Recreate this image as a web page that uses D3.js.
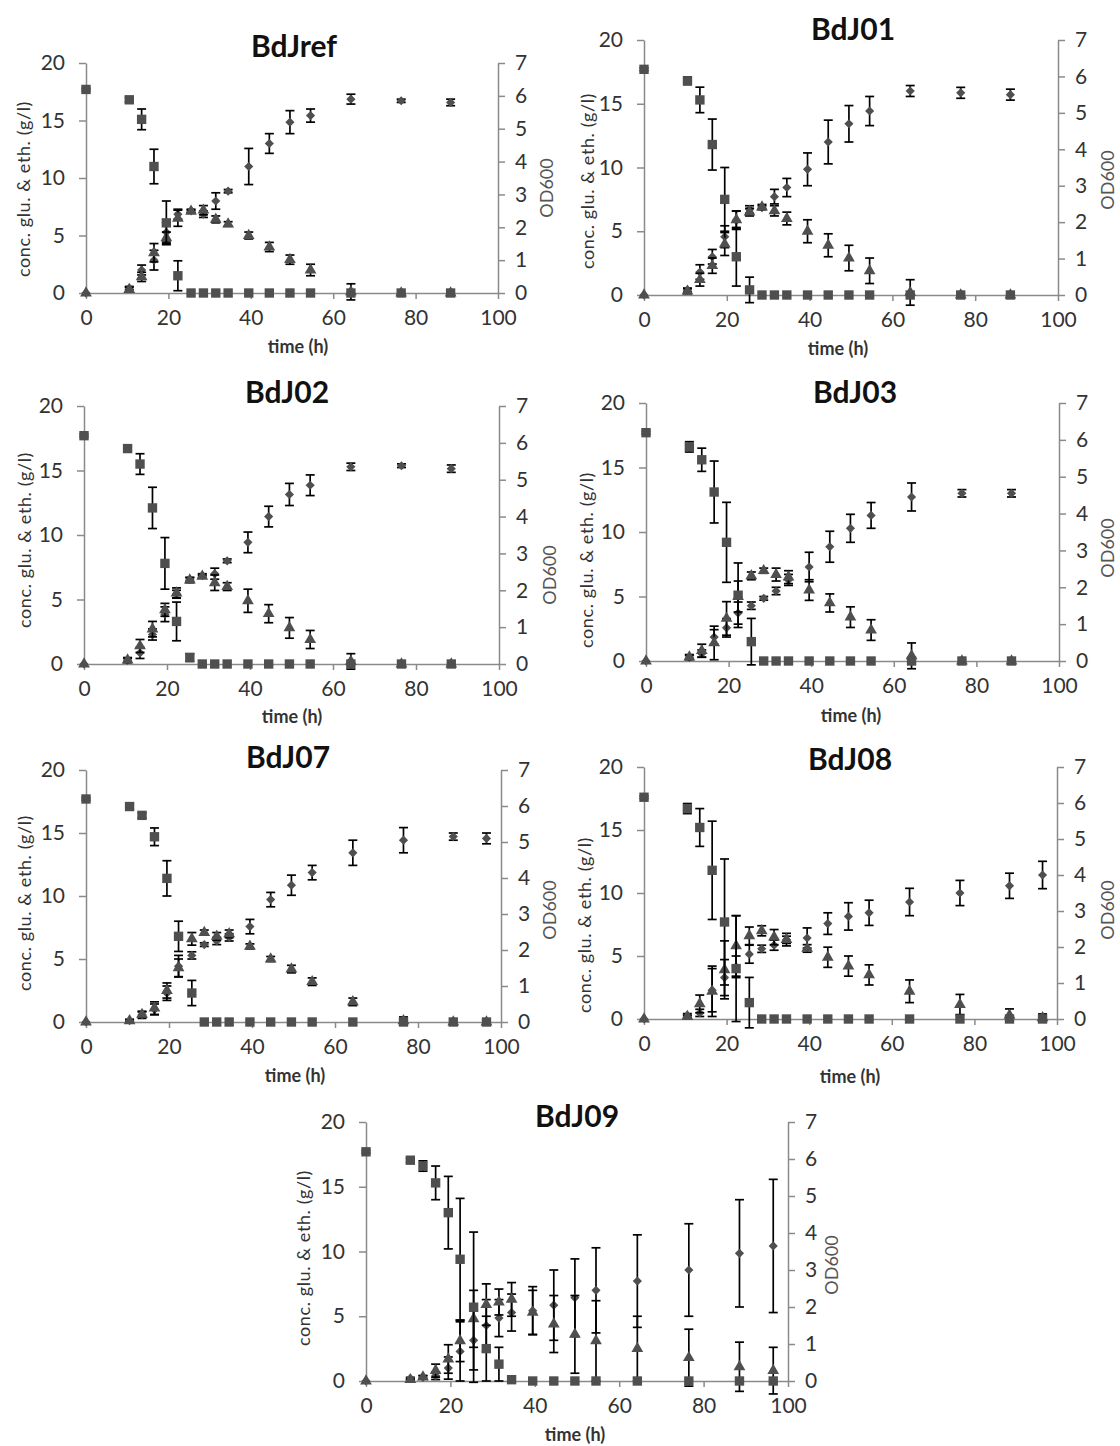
<!DOCTYPE html>
<html>
<head>
<meta charset="utf-8">
<script src="https://cdn.jsdelivr.net/npm/d3@7"></script>
<style>
  body { margin: 0; background: #fff; }
  svg text { font-family: Lato, "Open Sans", sans-serif; }
</style>
</head>
<body>
<div id="chart"></div>
<script>
var width = 1120;
var height = 1446;

// sampling times (h)
var timesA = [0, 10.5, 13.5, 16.5, 19.5, 22.3, 25.5, 28.5, 31.5, 34.5, 39.5, 44.5, 49.5, 54.5, 64.3, 76.5, 88.5];
var timesB = [0, 10.5, 13.5, 16.5, 19.5, 22.3, 25.5, 28.5, 31.5, 34.5, 39.5, 44.5, 49.5, 54.5, 64.3, 76.5, 88.5, 96.5];

var timeTicks = [0, 20, 40, 60, 80, 100];
var concTicks = [0, 5, 10, 15, 20];
var odTicks = [0, 1, 2, 3, 4, 5, 6, 7];

var titles = ["BdJref", "BdJ01", "BdJ02", "BdJ03", "BdJ07", "BdJ08", "BdJ09"];

// BdJref
var ref_glu    = [17.7, 16.8, 15.1, 11.0, 6.1, 1.5, 0, 0, 0, 0, 0, 0, 0, 0, 0, 0, 0];
var ref_gluErr = [0.1, 0.2, 0.9, 1.5, 1.9, 1.3, 0, 0, 0, 0, 0, 0, 0, 0, 0, 0, 0];
var ref_eth    = [0, 0.3, 1.4, 3.5, 4.8, 6.5, 7.1, 7.2, 6.4, 6.0, 5.0, 4.0, 2.9, 2.0, 0.1, 0, 0];
var ref_ethErr = [0, 0.2, 0.4, 0.8, 0.5, 0.7, 0.1, 0.4, 0.3, 0.2, 0.3, 0.4, 0.4, 0.5, 0.7, 0, 0];
var ref_od     = [0, 0.15, 0.7, 1.0, 1.85, 2.4, 2.5, 2.4, 2.8, 3.1, 3.85, 4.55, 5.2, 5.4, 5.9, 5.85, 5.8];
var ref_odErr  = [0, 0.05, 0.15, 0.3, 0.3, 0.15, 0.05, 0.1, 0.25, 0.05, 0.55, 0.3, 0.35, 0.2, 0.15, 0.05, 0.1];

// BdJ01
var j01_glu    = [17.7, 16.8, 15.3, 11.8, 7.5, 3.0, 0.4, 0, 0, 0, 0, 0, 0, 0, 0, 0, 0];
var j01_gluErr = [0.1, 0.3, 1.0, 2.0, 2.5, 2.3, 1.0, 0, 0, 0, 0, 0, 0, 0, 0, 0, 0];
var j01_eth    = [0, 0.3, 1.2, 2.3, 4.0, 5.9, 6.5, 6.9, 6.6, 6.0, 5.0, 3.9, 2.9, 1.9, 0.2, 0, 0];
var j01_ethErr = [0, 0.2, 0.5, 0.6, 0.9, 0.7, 0.3, 0.2, 0.4, 0.5, 0.9, 0.9, 1.0, 1.0, 1.0, 0, 0];
var j01_od     = [0, 0.14, 0.63, 1.05, 1.6, 2.05, 2.35, 2.4, 2.7, 2.95, 3.45, 4.2, 4.7, 5.05, 5.6, 5.55, 5.5];
var j01_odErr  = [0, 0.05, 0.2, 0.2, 0.3, 0.25, 0.1, 0.05, 0.2, 0.25, 0.45, 0.6, 0.5, 0.4, 0.15, 0.15, 0.15];

// BdJ02
var j02_glu    = [17.7, 16.7, 15.5, 12.1, 7.8, 3.3, 0.5, 0, 0, 0, 0, 0, 0, 0, 0, 0, 0];
var j02_gluErr = [0.1, 0.2, 0.8, 1.6, 2.0, 1.5, 0.3, 0, 0, 0, 0, 0, 0, 0, 0, 0, 0];
var j02_eth    = [0, 0.3, 1.4, 2.7, 4.2, 5.5, 6.5, 6.8, 6.3, 6.0, 4.9, 3.9, 2.8, 1.9, 0.2, 0, 0];
var j02_ethErr = [0, 0.2, 0.5, 0.6, 0.5, 0.4, 0.2, 0.1, 0.6, 0.3, 0.9, 0.7, 0.8, 0.7, 0.6, 0, 0];
var j02_od     = [0, 0.1, 0.3, 0.8, 1.35, 1.9, 2.3, 2.4, 2.45, 2.8, 3.3, 4.0, 4.6, 4.85, 5.35, 5.38, 5.3];
var j02_odErr  = [0, 0.05, 0.15, 0.15, 0.2, 0.1, 0.05, 0.05, 0.15, 0.05, 0.28, 0.28, 0.3, 0.28, 0.1, 0.05, 0.1];

// BdJ03
var j03_glu    = [17.7, 16.6, 15.6, 13.1, 9.2, 5.1, 1.5, 0, 0, 0, 0, 0, 0, 0, 0, 0, 0];
var j03_gluErr = [0.1, 0.4, 0.9, 2.4, 3.1, 2.5, 1.8, 0, 0, 0, 0, 0, 0, 0, 0, 0, 0];
var j03_eth    = [0, 0.3, 0.8, 1.4, 3.3, 5.0, 6.6, 7.0, 6.7, 6.5, 5.5, 4.5, 3.4, 2.4, 0.4, 0, 0];
var j03_ethErr = [0, 0.2, 0.5, 1.3, 1.3, 1.2, 0.3, 0.2, 0.5, 0.5, 0.8, 0.7, 0.8, 0.8, 1.0, 0, 0];
var j03_od     = [0, 0.1, 0.2, 0.65, 0.9, 1.3, 1.5, 1.7, 1.9, 2.2, 2.55, 3.1, 3.6, 3.95, 4.45, 4.55, 4.55];
var j03_odErr  = [0, 0.05, 0.1, 0.2, 0.25, 0.3, 0.1, 0.05, 0.1, 0.15, 0.4, 0.42, 0.38, 0.35, 0.38, 0.1, 0.1];

// BdJ07
var j07_glu    = [17.7, 17.1, 16.4, 14.7, 11.4, 6.8, 2.3, 0, 0, 0, 0, 0, 0, 0, 0, 0, 0, 0];
var j07_gluErr = [0.1, 0.2, 0.2, 0.7, 1.4, 1.2, 1.0, 0, 0, 0, 0, 0, 0, 0, 0, 0, 0, 0];
var j07_eth    = [0, 0.1, 0.6, 1.1, 2.5, 4.3, 6.6, 7.1, 6.8, 7.0, 6.0, 5.0, 4.2, 3.2, 1.6, 0.1, 0, 0];
var j07_ethErr = [0, 0.1, 0.2, 0.5, 0.6, 0.7, 0.5, 0.2, 0.3, 0.3, 0.2, 0.2, 0.3, 0.3, 0.3, 0.3, 0, 0];
var j07_od     = [0, 0.04, 0.2, 0.35, 0.8, 1.55, 1.85, 2.15, 2.25, 2.35, 2.65, 3.4, 3.8, 4.15, 4.7, 5.05, 5.15, 5.1];
var j07_odErr  = [0, 0.03, 0.1, 0.15, 0.2, 0.3, 0.1, 0.05, 0.1, 0.1, 0.2, 0.2, 0.28, 0.2, 0.35, 0.35, 0.1, 0.15];

// BdJ08
var j08_glu    = [17.6, 16.7, 15.2, 11.8, 7.7, 4.0, 1.3, 0, 0, 0, 0, 0, 0, 0, 0, 0, 0, 0];
var j08_gluErr = [0.1, 0.4, 1.5, 3.9, 5.0, 4.2, 2.0, 0, 0, 0, 0, 0, 0, 0, 0, 0, 0, 0];
var j08_eth    = [0, 0.2, 1.2, 2.2, 3.9, 5.8, 6.6, 7.0, 6.5, 6.3, 5.6, 4.9, 4.2, 3.5, 2.2, 1.15, 0.3, 0.1];
var j08_ethErr = [0, 0.1, 0.7, 2.0, 2.3, 2.4, 0.7, 0.4, 0.6, 0.5, 0.3, 0.8, 0.8, 0.8, 0.9, 0.8, 0.5, 0.3];
var j08_od     = [0, 0.1, 0.17, 0.8, 1.15, 1.45, 1.8, 1.95, 2.05, 2.2, 2.25, 2.65, 2.85, 2.95, 3.25, 3.5, 3.7, 4.0];
var j08_odErr  = [0, 0.05, 0.1, 0.6, 0.5, 0.3, 0.25, 0.1, 0.14, 0.1, 0.28, 0.3, 0.38, 0.35, 0.38, 0.35, 0.35, 0.38];

// BdJ09
var j09_glu    = [17.7, 17.05, 16.6, 15.3, 13.0, 9.4, 5.7, 2.5, 1.3, 0.1, 0, 0, 0, 0, 0, 0, 0, 0];
var j09_gluErr = [0.1, 0.15, 0.4, 1.3, 2.8, 4.7, 5.8, 2.5, 1.3, 0, 0, 0, 0, 0, 0, 0, 0, 0];
var j09_eth    = [0, 0.1, 0.3, 0.8, 1.7, 3.1, 4.8, 5.9, 6.1, 6.3, 5.3, 4.4, 3.6, 3.1, 2.5, 1.8, 1.1, 0.8];
var j09_ethErr = [0, 0.05, 0.1, 0.5, 1.1, 1.6, 2.2, 1.6, 1.0, 1.3, 1.7, 2.2, 3.0, 3.1, 2.5, 2.2, 1.9, 1.8];
var j09_od     = [0, 0.07, 0.1, 0.14, 0.35, 0.8, 1.1, 1.5, 1.7, 1.85, 1.9, 2.05, 2.25, 2.45, 2.7, 3.0, 3.45, 3.65];
var j09_odErr  = [0, 0.03, 0.05, 0.1, 0.3, 0.8, 0.8, 0.7, 0.5, 0.5, 0.65, 0.95, 1.05, 1.15, 1.25, 1.25, 1.45, 1.8];

// where each panel sits on the page
var layout = [
  {x0: 86,  x100: 498, y0: 293,  y20: 63,   tx: 294, ty: 57,   lx: 24,  ly: 189,  rx: 547,  ry: 188,  xt: 298, xty: 353},
  {x0: 644, x100: 1058, y0: 295, y20: 40,   tx: 853, ty: 40,   lx: 588, ly: 181,  rx: 1108, ry: 180,  xt: 838, xty: 355},
  {x0: 84,  x100: 499, y0: 664,  y20: 406,  tx: 287, ty: 403,  lx: 25,  ly: 540,  rx: 550,  ry: 575,  xt: 292, xty: 723},
  {x0: 646, x100: 1059, y0: 661, y20: 403,  tx: 855, ty: 403,  lx: 587, ly: 560,  rx: 1108, ry: 548,  xt: 851, xty: 722},
  {x0: 86,  x100: 501, y0: 1022, y20: 770,  tx: 288, ty: 768,  lx: 25,  ly: 903,  rx: 550,  ry: 910,  xt: 295, xty: 1082},
  {x0: 644, x100: 1057, y0: 1019, y20: 767, tx: 850, ty: 770,  lx: 585, ly: 925,  rx: 1108, ry: 910,  xt: 850, xty: 1083},
  {x0: 366, x100: 788, y0: 1381, y20: 1122, tx: 577, ty: 1127, lx: 304, ly: 1258, rx: 832,  ry: 1265, xt: 575, xty: 1441}
];

var panels = [
  {t: timesA, glu: ref_glu, gluErr: ref_gluErr, eth: ref_eth, ethErr: ref_ethErr, od: ref_od, odErr: ref_odErr},
  {t: timesA, glu: j01_glu, gluErr: j01_gluErr, eth: j01_eth, ethErr: j01_ethErr, od: j01_od, odErr: j01_odErr},
  {t: timesA, glu: j02_glu, gluErr: j02_gluErr, eth: j02_eth, ethErr: j02_ethErr, od: j02_od, odErr: j02_odErr},
  {t: timesA, glu: j03_glu, gluErr: j03_gluErr, eth: j03_eth, ethErr: j03_ethErr, od: j03_od, odErr: j03_odErr},
  {t: timesB, glu: j07_glu, gluErr: j07_gluErr, eth: j07_eth, ethErr: j07_ethErr, od: j07_od, odErr: j07_odErr},
  {t: timesB, glu: j08_glu, gluErr: j08_gluErr, eth: j08_eth, ethErr: j08_ethErr, od: j08_od, odErr: j08_odErr},
  {t: timesB, glu: j09_glu, gluErr: j09_gluErr, eth: j09_eth, ethErr: j09_ethErr, od: j09_od, odErr: j09_odErr}
];

var axisColor = "#8a8a8a";
var markColor = "#4f4f4f";
var textColor = "#333333";

var svg = d3.select("#chart")
  .append("svg")
  .attr("width", width)
  .attr("height", height);

svg.append("rect").attr("width", width).attr("height", height).attr("fill", "#fff");

var squareSym = d3.symbol().type(d3.symbolSquare).size(88);
var triSym = d3.symbol().type(d3.symbolTriangle).size(60);
var diamondSym = d3.symbol().type(d3.symbolSquare).size(42);

function styleAxis(sel) {
  sel.select(".domain").attr("stroke", axisColor).attr("stroke-width", 1.5);
  sel.selectAll(".tick line").attr("stroke", axisColor).attr("stroke-width", 1.5);
  sel.selectAll(".tick text")
    .attr("fill", textColor)
    .style("font-size", "21px")
    .style("font-family", "Lato, 'Open Sans', sans-serif");
}

function drawSeries(g, x, y, times, vals, errs, sym, rotate) {
  var pts = times.map(function(t, i){ return {t: t, v: vals[i], e: errs[i]}; });

  var bars = g.append("g").selectAll("g")
    .data(pts.filter(function(d){ return d.e > 0; }))
    .enter().append("g")
    .attr("stroke", "#000")
    .attr("stroke-width", 1.7);

  bars.append("line")
    .attr("x1", function(d){ return x(d.t); })
    .attr("x2", function(d){ return x(d.t); })
    .attr("y1", function(d){ return y(d.v + d.e); })
    .attr("y2", function(d){ return y(d.v - d.e); });
  bars.append("line")
    .attr("x1", function(d){ return x(d.t) - 4.5; })
    .attr("x2", function(d){ return x(d.t) + 4.5; })
    .attr("y1", function(d){ return y(d.v + d.e); })
    .attr("y2", function(d){ return y(d.v + d.e); });
  bars.append("line")
    .attr("x1", function(d){ return x(d.t) - 4.5; })
    .attr("x2", function(d){ return x(d.t) + 4.5; })
    .attr("y1", function(d){ return y(d.v - d.e); })
    .attr("y2", function(d){ return y(d.v - d.e); });

  g.append("g").selectAll("path")
    .data(pts)
    .enter().append("path")
    .attr("d", sym)
    .attr("fill", markColor)
    .attr("transform", function(d){
      return "translate(" + x(d.t) + "," + y(d.v) + ")" + (rotate ? " rotate(45)" : "");
    });
}

panels.forEach(function(p, i){
  var L = layout[i];
  var g = svg.append("g").attr("class", "panel");

  var x = d3.scaleLinear().domain([0, 100]).range([L.x0, L.x100]);
  var yL = d3.scaleLinear().domain([0, 20]).range([L.y0, L.y20]);
  var yR = d3.scaleLinear().domain([0, 7]).range([L.y0, L.y20]);

  g.append("g")
    .attr("transform", "translate(0," + L.y0 + ")")
    .call(d3.axisBottom(x).tickValues(timeTicks).tickFormat(d3.format("d"))
      .tickSize(6).tickSizeOuter(0).tickPadding(11))
    .call(styleAxis);

  g.append("g")
    .attr("transform", "translate(" + L.x0 + ",0)")
    .call(d3.axisLeft(yL).tickValues(concTicks).tickFormat(d3.format("d"))
      .tickSize(7).tickSizeOuter(0).tickPadding(14))
    .call(styleAxis);

  g.append("g")
    .attr("transform", "translate(" + L.x100 + ",0)")
    .call(d3.axisRight(yR).tickValues(odTicks).tickFormat(d3.format("d"))
      .tickSize(7).tickSizeOuter(0).tickPadding(10))
    .call(styleAxis);

  // titles
  g.append("text")
    .attr("x", L.tx).attr("y", L.ty)
    .attr("text-anchor", "middle")
    .attr("font-size", 30).attr("font-weight", "bold")
    .attr("fill", "#111")
    .text(titles[i]);

  g.append("text")
    .attr("x", L.xt).attr("y", L.xty)
    .attr("text-anchor", "middle")
    .attr("font-size", 18).attr("font-weight", "bold")
    .attr("fill", textColor)
    .text("time (h)");

  g.append("text")
    .attr("transform", "translate(" + L.lx + "," + L.ly + ") rotate(-90)")
    .attr("text-anchor", "middle")
    .attr("dy", "0.35em")
    .attr("font-size", 18)
    .attr("letter-spacing", "0.6px")
    .attr("fill", textColor)
    .text("conc. glu. & eth. (g/l)");

  g.append("text")
    .attr("transform", "translate(" + L.rx + "," + L.ry + ") rotate(-90)")
    .attr("text-anchor", "middle")
    .attr("dy", "0.35em")
    .attr("font-size", 18)
    .attr("fill", "#555")
    .text("OD600");

  // OD600 (diamonds, right axis), ethanol (triangles), glucose (squares)
  drawSeries(g, x, yR, p.t, p.od, p.odErr, diamondSym, true);
  drawSeries(g, x, yL, p.t, p.eth, p.ethErr, triSym, false);
  drawSeries(g, x, yL, p.t, p.glu, p.gluErr, squareSym, false);
});
</script>
</body>
</html>
